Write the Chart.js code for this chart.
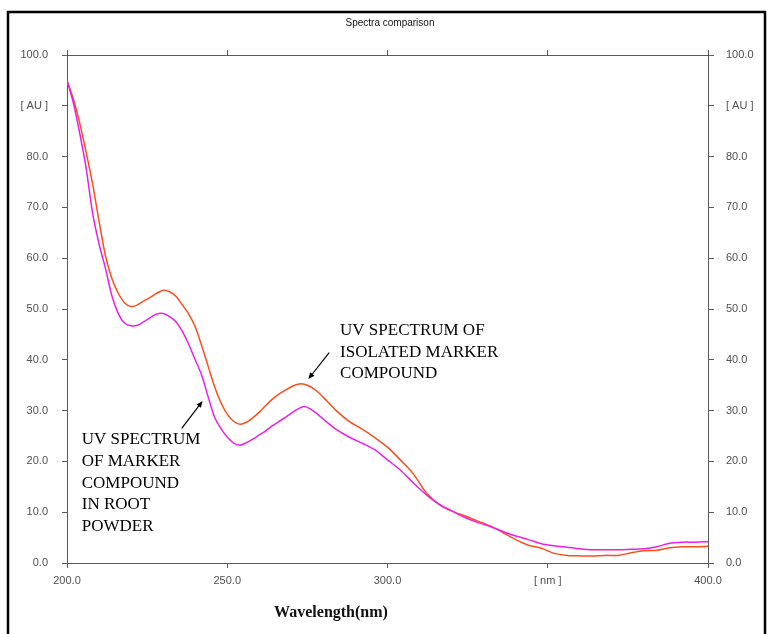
<!DOCTYPE html>
<html>
<head>
<meta charset="utf-8">
<title>Spectra comparison</title>
<script src="https://cdn.jsdelivr.net/npm/chart.js@4.4.1/dist/chart.umd.min.js"></script>
<style>
  html, body { margin: 0; padding: 0; background: #ffffff; }
  #wrap { position: relative; width: 769px; height: 634px; }
</style>
</head>
<body>
<div id="wrap"><canvas id="spectraChart" width="769" height="634"></canvas></div>
<script>
// Data (wavelength in nm, absorbance in AU)
const wavelengths = [
  200, 202, 204, 206, 208, 210, 212, 214, 216, 218, 220, 222, 224, 226, 228,
  230, 232, 234, 236, 238, 240, 242, 244, 246, 248, 250, 252, 254, 256, 258,
  260, 262, 264, 266, 268, 270, 272, 274, 276, 278, 280, 284, 288, 292, 296,
  300, 304, 308, 312, 316, 320, 324, 328, 332, 336, 340, 344, 348, 352, 356,
  360, 364, 368, 372, 376, 380, 384, 388, 392, 396, 400,
];
// UV spectrum of isolated marker compound (orange)
const isolatedMarker = [
  95.0, 91.3, 86.5, 80.8, 74.6, 67.3, 60.5, 56.0, 53.1, 51.2, 50.5, 50.8, 51.6, 52.3, 53.1,
  53.7, 53.4, 52.5, 50.8, 49.0, 46.5, 42.8, 38.8, 34.8, 31.6, 29.3, 27.9, 27.3, 27.7, 28.6,
  29.7, 31.0, 32.2, 33.2, 34.0, 34.7, 35.2, 35.2, 34.7, 33.8, 32.6, 30.0, 27.9, 26.4, 24.7,
  22.8, 20.3, 17.6, 13.9, 11.6, 10.2, 9.3, 8.3, 7.3, 6.0, 4.6, 3.5, 2.9, 1.9, 1.5,
  1.4, 1.4, 1.5, 1.5, 2.0, 2.4, 2.5, 3.0, 3.2, 3.2, 3.3,
];
// UV spectrum of marker compound in root powder (magenta)
const rootPowder = [
  95.0, 90.5, 84.5, 77.6, 68.8, 62.8, 58.0, 52.6, 49.1, 47.2, 46.7, 46.8, 47.5, 48.3, 49.0,
  49.1, 48.5, 47.5, 45.6, 43.0, 40.0, 37.0, 32.8, 28.8, 26.5, 24.8, 23.6, 23.2, 23.7, 24.4,
  25.2, 26.0, 27.0, 27.8, 28.6, 29.5, 30.3, 30.8, 30.3, 29.4, 28.3, 26.3, 24.8, 23.6, 22.3,
  20.3, 18.3, 15.8, 13.5, 11.6, 10.3, 9.0, 8.0, 7.2, 6.2, 5.3, 4.6, 3.8, 3.4, 3.1,
  2.8, 2.6, 2.6, 2.6, 2.7, 2.8, 3.2, 3.9, 4.1, 4.1, 4.2,
];
// Tick values
const xTickValues = [200, 250, 300, 350, 400];
const yTickValues = [0, 10, 20, 30, 40, 50, 60, 70, 80, 90, 100];

const axisColor = "#5a5a5a";
const tickFont = { family: "'Liberation Sans', Arial, sans-serif", size: 11 };
const tickColor = "#505050";

function toPoints(values) {
  return wavelengths.map(function (w, i) {
    return { x: w, y: values[i] };
  });
}

function xLabel(value) {
  return value === 350 ? "[ nm ]" : value.toFixed(1);
}

function yLabel(value) {
  return value === 90 ? "[ AU ]" : value.toFixed(1);
}

// Annotation labels, anchored in data space
const annotations = [
  {
    lines: ["UV SPECTRUM OF", "ISOLATED MARKER", "COMPOUND"],
    at: { x: 285.2, y: 44.9 },
    arrowFrom: { x: 281.8, y: 41.4 },
    arrowTo: { x: 275.3, y: 36.2 },
  },
  {
    lines: ["UV SPECTRUM", "OF MARKER", "COMPOUND", "IN ROOT", "POWDER"],
    at: { x: 204.6, y: 23.4 },
    arrowFrom: { x: 235.8, y: 26.5 },
    arrowTo: { x: 242.3, y: 31.9 },
  },
];

function drawArrow(ctx, x1, y1, x2, y2) {
  const angle = Math.atan2(y2 - y1, x2 - x1);
  const head = 7;
  ctx.beginPath();
  ctx.moveTo(x1, y1);
  ctx.lineTo(x2 - Math.cos(angle) * 3, y2 - Math.sin(angle) * 3);
  ctx.stroke();
  ctx.beginPath();
  ctx.moveTo(x2, y2);
  ctx.lineTo(x2 - head * Math.cos(angle - 0.4), y2 - head * Math.sin(angle - 0.4));
  ctx.lineTo(x2 - head * Math.cos(angle + 0.4), y2 - head * Math.sin(angle + 0.4));
  ctx.closePath();
  ctx.fill();
}

// Frame, titles and annotations
const decorPlugin = {
  id: "decor",
  afterDraw: function (chart) {
    const ctx = chart.ctx;
    const xs = chart.scales.x;
    const ys = chart.scales.y;
    ctx.save();

    // outer frame
    ctx.strokeStyle = "#000000";
    ctx.lineWidth = 2.5;
    ctx.beginPath();
    ctx.moveTo(8, 660);
    ctx.lineTo(8, 12);
    ctx.lineTo(765, 12);
    ctx.lineTo(765, 660);
    ctx.stroke();

    // small title
    ctx.fillStyle = "#111111";
    ctx.font = "10px 'Liberation Sans', Arial, sans-serif";
    ctx.textAlign = "center";
    ctx.textBaseline = "alphabetic";
    ctx.fillText("Spectra comparison", 390, 26);

    // x axis title
    ctx.font = "bold 16px 'Liberation Serif', 'Times New Roman', serif";
    ctx.fillText("Wavelength(nm)", 331, 617);

    // annotations
    ctx.font = "17px 'Liberation Serif', 'Times New Roman', serif";
    ctx.textAlign = "left";
    ctx.strokeStyle = "#000000";
    ctx.fillStyle = "#000000";
    ctx.lineWidth = 1.2;
    annotations.forEach(function (a) {
      const tx = xs.getPixelForValue(a.at.x);
      const ty = ys.getPixelForValue(a.at.y);
      a.lines.forEach(function (line, i) {
        ctx.fillText(line, tx, ty + i * 21.7);
      });
      drawArrow(
        ctx,
        xs.getPixelForValue(a.arrowFrom.x),
        ys.getPixelForValue(a.arrowFrom.y),
        xs.getPixelForValue(a.arrowTo.x),
        ys.getPixelForValue(a.arrowTo.y)
      );
    });
    ctx.restore();
  },
};

const spectraChart = new Chart(document.getElementById("spectraChart"), {
  type: "line",
  data: {
    datasets: [
      {
        label: "UV spectrum of marker compound in root powder",
        data: toPoints(rootPowder),
        borderColor: "#ea1fea",
        borderWidth: 1.5,
        pointRadius: 0,
        tension: 0.3,
        fill: false,
      },
      {
        label: "UV spectrum of isolated marker compound",
        data: toPoints(isolatedMarker),
        borderColor: "#ff4d1a",
        borderWidth: 1.5,
        pointRadius: 0,
        tension: 0.3,
        fill: false,
      },
    ],
  },
  options: {
    responsive: false,
    animation: false,
    layout: { padding: 0 },
    plugins: {
      legend: { display: false },
      title: { display: false },
      tooltip: { enabled: false },
    },
    scales: {
      x: {
        type: "linear",
        position: "bottom",
        min: 200,
        max: 400,
        afterBuildTicks: function (scale) {
          scale.ticks = xTickValues.map(function (v) { return { value: v }; });
        },
        afterFit: function (scale) { scale.height = 71; },
        ticks: {
          callback: xLabel,
          font: tickFont,
          color: tickColor,
          padding: 6,
          maxRotation: 0,
        },
        grid: { drawOnChartArea: false, tickLength: 5, color: axisColor },
        border: { color: axisColor },
      },
      xTop: {
        type: "linear",
        position: "top",
        min: 200,
        max: 400,
        afterBuildTicks: function (scale) {
          scale.ticks = xTickValues.map(function (v) { return { value: v }; });
        },
        afterFit: function (scale) { scale.height = 55; },
        ticks: { display: false },
        grid: { drawOnChartArea: false, tickLength: 5, color: axisColor },
        border: { color: axisColor },
      },
      y: {
        position: "left",
        min: 0,
        max: 100,
        afterBuildTicks: function (scale) {
          scale.ticks = yTickValues.map(function (v) { return { value: v }; });
        },
        afterFit: function (scale) { scale.width = 67; },
        ticks: { callback: yLabel, font: tickFont, color: tickColor, padding: 14 },
        grid: { drawOnChartArea: false, tickLength: 5, color: axisColor },
        border: { color: axisColor },
      },
      y2: {
        position: "right",
        min: 0,
        max: 100,
        afterBuildTicks: function (scale) {
          scale.ticks = yTickValues.map(function (v) { return { value: v }; });
        },
        afterFit: function (scale) { scale.width = 61; },
        ticks: { callback: yLabel, font: tickFont, color: tickColor, padding: 12 },
        grid: { drawOnChartArea: false, tickLength: 6, color: axisColor },
        border: { color: axisColor },
      },
    },
  },
  plugins: [decorPlugin],
});
</script>
</body>
</html>
